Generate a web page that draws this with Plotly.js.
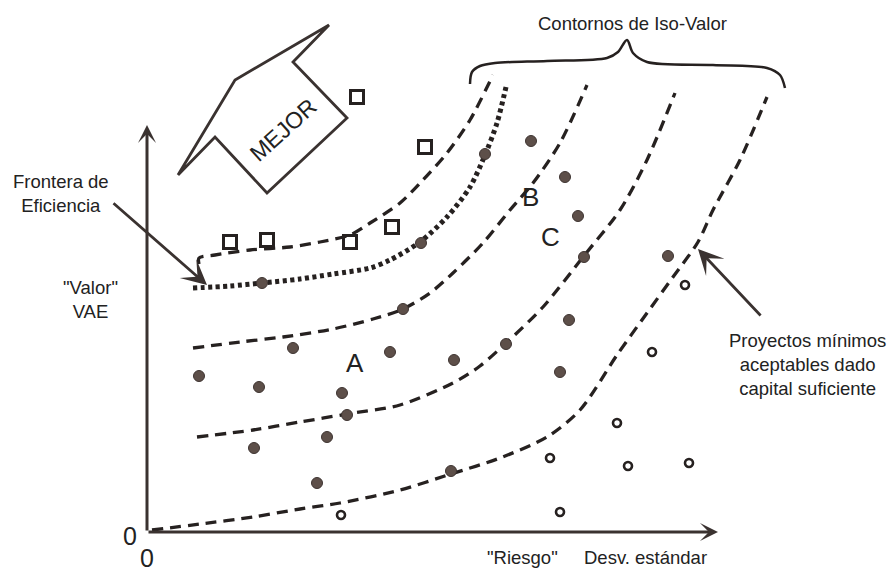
<!DOCTYPE html>
<html><head><meta charset="utf-8">
<script src="https://cdn.plot.ly/plotly-3.0.1.min.js"></script>
<style>html,body{margin:0;padding:0;background:#fff}#chart{width:892px;height:572px}</style>
</head><body><div id="chart"></div>
<script>
// Risk (x) and Value (y) in arbitrary units; origin at the axes' intersection
const squareX = [21.0, 27.8, 8.3, 12.0, 20.3, 24.5];
const squareY = [43.5, 38.5, 29.0, 29.2, 29.0, 30.5];

const dotX = [11.5, 27.4, 33.8, 38.4, 41.8, 43.1, 43.7, 52.1, 25.6, 5.2, 14.6, 24.3, 30.7, 11.2, 19.5, 20.0, 18.0, 10.7, 17.0, 30.4, 42.2, 35.9, 41.3];
const dotY = [24.9, 28.9, 37.8, 39.1, 35.5, 31.6, 27.5, 27.6, 22.3, 15.6, 18.4, 18.0, 17.2, 14.5, 13.9, 11.7, 9.5, 8.4, 4.9, 6.1, 21.2, 18.8, 16.0];

const ringX = [53.8, 50.5, 47.0, 40.3, 48.1, 54.2, 41.3, 19.4];
const ringY = [24.7, 18.0, 10.9, 7.4, 6.6, 6.9, 2.0, 1.7];

const c1X = [5.2, 5.2, 6.8, 10.3, 14.3, 17.3, 20.3, 22.3, 25.3, 27.6, 30.0, 32.3, 34.6];
const c1Y = [26.8, 27.4, 27.7, 28.2, 28.5, 29.0, 29.7, 30.9, 32.9, 35.2, 37.9, 41.2, 45.7];

const frontX = [4.6, 8.3, 11.5, 15.3, 18.6, 22.3, 24.3, 27.3, 30.0, 32.3, 33.8, 35.0, 35.9];
const frontY = [24.4, 24.6, 24.9, 25.3, 25.8, 26.4, 27.2, 29.0, 31.5, 34.5, 37.7, 40.9, 44.5];

const c3X = [4.6, 9.3, 13.6, 18.6, 22.6, 25.6, 28.3, 30.6, 33.6, 36.3, 38.6, 41.3, 44.0];
const c3Y = [18.4, 19.0, 19.5, 20.3, 21.3, 22.3, 23.9, 25.9, 28.9, 32.2, 34.9, 38.9, 44.7];

const c4X = [5.0, 10.6, 15.3, 20.0, 25.3, 30.6, 33.3, 35.8, 39.6, 43.6, 47.3, 50.0, 52.8];
const c4Y = [9.5, 10.2, 11.0, 11.8, 12.7, 14.9, 16.6, 18.8, 22.5, 27.5, 32.2, 37.2, 43.9];

const c5X = [0.5, 5.3, 10.6, 15.3, 19.3, 25.3, 30.4, 35.3, 40.0, 43.3, 47.0, 50.0, 52.6, 55.1, 56.6, 59.3, 62.0];
const c5Y = [0.2, 0.8, 1.5, 2.3, 2.9, 4.2, 5.8, 7.4, 9.5, 12.2, 17.7, 21.9, 25.5, 29.0, 32.2, 37.2, 43.5];

const braceX = [32.3, 32.5, 33.3, 34.8, 40.0, 46.0, 47.1, 48.0, 48.6, 50.0, 56.6, 62.0, 63.3, 63.8];
const braceY = [44.8, 46.0, 46.6, 46.9, 47.1, 47.4, 48.0, 49.2, 47.9, 47.0, 46.7, 46.4, 45.7, 44.4];

const mejorX = [3.1, 8.8, 18.2, 14.6, 20.0, 12.0, 6.8, 3.1];
const mejorY = [35.7, 45.2, 50.7, 47.0, 41.4, 33.9, 39.5, 35.7];

const labels = {
  title: 'Contornos de Iso-Valor',
  frontier: 'Frontera de<br>Eficiencia',
  value: '"Valor"<br>VAE',
  min: 'Proyectos mínimos<br>aceptables dado<br>capital suficiente',
  risk: '"Riesgo"',
  sd: 'Desv. estándar'
};

const ink = '#262120';
const dash = (x, y) => ({x, y, mode: 'lines', hoverinfo: 'skip',
  line: {color: ink, width: 3.3, dash: '11px,7px', shape: 'spline', smoothing: 0.8}});

const traces = [
  dash(c1X, c1Y), dash(c3X, c3Y), dash(c4X, c4Y), dash(c5X, c5Y),
  {x: frontX, y: frontY, mode: 'lines', hoverinfo: 'skip',
   line: {color: ink, width: 5, dash: '4px,3.5px', shape: 'spline', smoothing: 0.8}},
  {x: braceX, y: braceY, mode: 'lines', hoverinfo: 'skip',
   line: {color: ink, width: 2.5, shape: 'spline', smoothing: 0.9}},
  {x: mejorX, y: mejorY, mode: 'lines', hoverinfo: 'skip',
   line: {color: '#3a3230', width: 2.8}},
  {x: squareX, y: squareY, mode: 'markers', hoverinfo: 'skip',
   marker: {symbol: 'square-open', size: 13, color: ink, line: {width: 3, color: ink}}},
  {x: dotX, y: dotY, mode: 'markers', hoverinfo: 'skip',
   marker: {symbol: 'circle', size: 11, color: '#5d4f49', line: {width: 1, color: '#3e3431'}}},
  {x: ringX, y: ringY, mode: 'markers', hoverinfo: 'skip',
   marker: {symbol: 'circle-open', size: 8, color: ink, line: {width: 2.6, color: ink}}}
];

const F = 'Liberation Sans, Arial, sans-serif';
const txt = (x, y, text, size, extra) => Object.assign({x, y, xref: 'x', yref: 'y', text, showarrow: false,
  font: {family: F, size, color: '#222'}}, extra || {});
const arrow = (x, y, ax, ay, w, s) => ({x, y, ax, ay, xref: 'x', yref: 'y', axref: 'x', ayref: 'y', text: '',
  showarrow: true, arrowhead: 3, arrowwidth: w, arrowsize: s, arrowcolor: '#3a3230', standoff: 0, startstandoff: 0});

const annotations = [
  arrow(0, 40.7, 0, 0, 3, 1.0),
  arrow(57.1, 0, 0, 0, 3, 1.0),
  arrow(6.0, 24.7, -3.5, 33.0, 2.8, 1.5),
  arrow(55.1, 28.3, 61.5, 21.5, 2.8, 1.5),
  txt(48.5, 50.9, labels.title, 18.5),
  txt(-8.6, 33.85, labels.frontier, 18.5),
  txt(-5.7, 23.25, labels.value, 18.5),
  txt(66.0, 16.8, labels.min, 18.5),
  txt(37.5, -2.5, labels.risk, 18.5),
  txt(49.8, -2.5, labels.sd, 18.5),
  txt(20.8, 16.9, 'A', 26),
  txt(38.3, 33.5, 'B', 26),
  txt(40.3, 29.5, 'C', 26),
  txt(-1.7, -0.4, '0', 25),
  txt(0.0, -2.6, '0', 25),
  txt(13.6, 40.2, 'MEJOR', 23, {textangle: -42})
];

const layout = {
  width: 892, height: 572,
  margin: {l: 0, r: 0, t: 0, b: 0},
  paper_bgcolor: '#fff', plot_bgcolor: '#fff',
  showlegend: false,
  xaxis: {range: [-14.7, 74.5], visible: false, fixedrange: true},
  yaxis: {range: [-4.0, 53.2], visible: false, fixedrange: true},
  annotations
};

Plotly.newPlot('chart', traces, layout, {staticPlot: true, displayModeBar: false});
</script>
</body></html>
